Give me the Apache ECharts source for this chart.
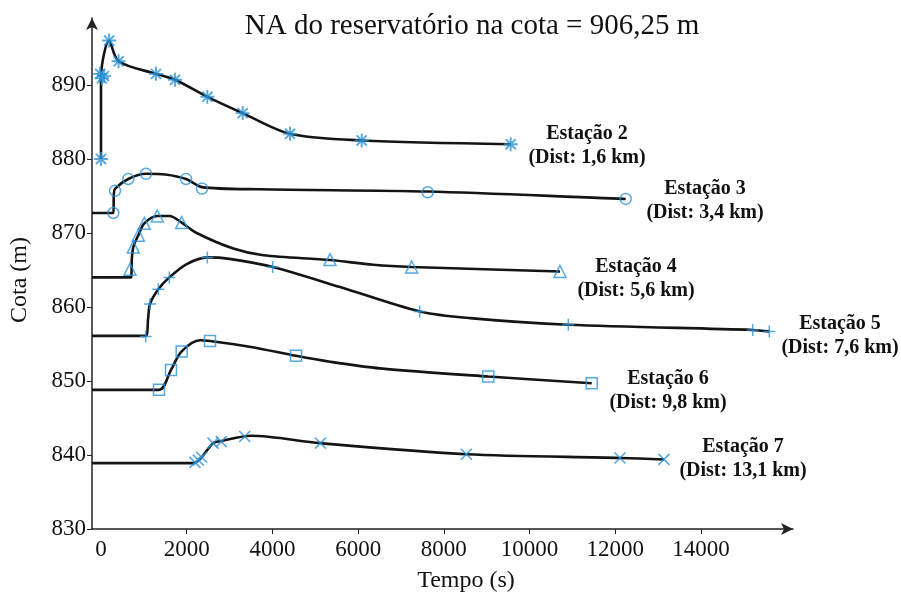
<!DOCTYPE html>
<html><head><meta charset="utf-8">
<script src="https://cdn.jsdelivr.net/npm/echarts@6/dist/echarts.min.js"></script>
<style>html,body{margin:0;padding:0;background:#fff}#c{width:901px;height:596px}</style>
</head><body><div id="c"></div>
<script>
// ---- data ----
const xTickLabels = [0,2000,4000,6000,8000,10000,12000,14000];
const xTickMarks = [2000,4000,6000,8000,10000,12000,14000];
const yTickLabels = [830,840,850,860,870,880,890];

const st2Line  = [[0,880],[0,891],[190,896],[410,893.2],[1283,891.5],[1727,890.7],[2481,888.4],[3306,886.2],[4410,883.4],[6082,882.5],[9559,882.0]];
const st2Marks = [[0,880],[-20,891.5],[20,890.9],[70,891.2],[190,896],[410,893.2],[1283,891.5],[1727,890.7],[2481,888.4],[3306,886.2],[4410,883.4],[6082,882.5],[9559,882.0]];

const st3Line  = [[-210,872.7],[290,872.7],[300,875.3],[330,876.0],[637,877.3],[1050,878.0],[1500,877.9],[1983,877.3],[2356,876.2],[3700,875.9],[7622,875.6],[12243,874.6]];
const st3Marks = [[287,872.7],[327,875.7],[637,877.3],[1050,878.0],[1983,877.3],[2356,876.0],[7622,875.5],[12243,874.6]];

const st4Line  = [[-210,864.0],[700,864.0],[720,866.5],[754,868.1],[871,869.7],[1010,871.3],[1314,872.3],[1600,872.3],[1883,871.4],[2233,870.0],[3087,867.9],[3787,867.0],[5343,866.35],[6353,865.7],[7249,865.4],[10709,864.8]];
const st4Marks = [[677,865.1],[754,868.1],[871,869.7],[1010,871.3],[1314,872.3],[1883,871.4],[5343,866.4],[7249,865.4],[10709,864.8]];

const st5Line  = [[-210,856.1],[1042,856.1],[1100,858.5],[1143,860.4],[1337,862.4],[1594,864.0],[2000,865.8],[2481,866.7],[3000,866.5],[4006,865.4],[5577,862.7],[7436,859.4],[8610,858.5],[10903,857.6],[15205,856.9],[15593,856.7]];
const st5Marks = [[1042,856.0],[1143,860.4],[1337,862.4],[1594,864.0],[2481,866.7],[4006,865.4],[7436,859.4],[10903,857.6],[15205,856.9],[15593,856.7]];

const st6Line  = [[-210,848.8],[1353,848.8],[1633,851.5],[1882,854.0],[2310,855.5],[2543,855.4],[3500,854.6],[4550,853.4],[5343,852.6],[6510,851.7],[9036,850.6],[11449,849.7]];
const st6Marks = [[1353,848.8],[1633,851.5],[1882,854.0],[2543,855.4],[4550,853.4],[9036,850.6],[11449,849.7]];

const st7Line  = [[-210,838.9],[2154,838.9],[2350,839.7],[2613,841.6],[2807,841.9],[3500,842.6],[5119,841.6],[8525,840.1],[12109,839.6],[13136,839.4]];
const st7Marks = [[2193,839.0],[2271,839.3],[2349,839.7],[2613,841.6],[2807,841.8],[3352,842.5],[5119,841.6],[8525,840.1],[12109,839.6],[13136,839.4]];

const stationNames = ['Estação 2','Estação 3','Estação 4','Estação 5','Estação 6','Estação 7'];
const stationDists = ['(Dist: 1,6 km)','(Dist: 3,4 km)','(Dist: 5,6 km)','(Dist: 7,6 km)','(Dist: 9,8 km)','(Dist: 13,1 km)'];
const titleText = 'NA do reservatório na cota = 906,25 m';

// ---- styling ----
const SERIF = '"Liberation Serif","Times New Roman",serif';
const BLUE = '#2a93d8';
const SYM = {
  asterisk: 'path://M0,-1L0,1M-1,0L1,0M-0.72,-0.72L0.72,0.72M-0.72,0.72L0.72,-0.72',
  circle: 'circle',
  triangle: 'path://M0,-1L0.95,0.7L-0.95,0.7Z',
  plus: 'path://M0,-1L0,1M-1,0L1,0',
  square: 'path://M-1,-1L1,-1L1,1L-1,1Z',
  cross: 'path://M-1,-1L1,1M-1,1L1,-1'
};
const lines = [st2Line,st3Line,st4Line,st5Line,st6Line,st7Line];
const marks = [st2Marks,st3Marks,st4Marks,st5Marks,st6Marks,st7Marks];
const syms = [SYM.asterisk,SYM.circle,SYM.triangle,SYM.plus,SYM.square,SYM.cross];
const symSizes = [14,11,12,12,11,11];
const symWidths = [1.9,1.5,1.5,1.5,1.5,1.6];
const labelPos = [[587,134,158],[705,189,213],[636,267,291],[840,324,348],[668,379,403],[743,447,471]];

const series = [];
lines.forEach((d,i)=>{
  series.push({type:'line',data:d,smooth:0.3,showSymbol:false,silent:true,z:2,
    lineStyle:{color:'#141414',width:2.6}});
});
marks.forEach((d,i)=>{
  series.push({type:'scatter',data:d,symbol:syms[i],symbolSize:symSizes[i],silent:true,z:3,
    itemStyle:{color:'none',borderColor:BLUE,borderWidth:symWidths[i]}});
});

const graphic = [
  {type:'text',style:{text:titleText,x:472,y:26,textAlign:'center',textVerticalAlign:'middle',font:'29px '+SERIF,fill:'#111'}},
  {type:'text',style:{text:'Tempo (s)',x:466,y:581,textAlign:'center',textVerticalAlign:'middle',font:'24px '+SERIF,fill:'#111'}},
  {type:'text',rotation:Math.PI/2,x:20,y:280,style:{text:'Cota (m)',x:0,y:0,textAlign:'center',textVerticalAlign:'middle',font:'24px '+SERIF,fill:'#111'}}
];
labelPos.forEach((p,i)=>{
  graphic.push({type:'text',style:{text:stationNames[i],x:p[0],y:p[1],textAlign:'center',textVerticalAlign:'middle',font:'bold 20px '+SERIF,fill:'#111'}});
  graphic.push({type:'text',style:{text:stationDists[i],x:p[0],y:p[2],textAlign:'center',textVerticalAlign:'middle',font:'bold 20px '+SERIF,fill:'#111'}});
});

const chart = echarts.init(document.getElementById('c'),null,{renderer:'canvas'});
chart.setOption({
  animation:false,
  backgroundColor:'#fff',
  grid:{left:92,right:108,top:18,bottom:67,containLabel:false},
  xAxis:{type:'value',min:-210,max:16146,
    axisLine:{onZero:false,lineStyle:{color:'#222',width:1.5},symbol:['none','arrow'],symbolSize:[9,12]},
    axisTick:{show:true,length:5,customValues:xTickMarks,lineStyle:{color:'#222'}},
    axisLabel:{customValues:xTickLabels,margin:9,color:'#111',fontFamily:SERIF,fontSize:23,formatter:v=>String(v)},
    splitLine:{show:false}},
  yAxis:{type:'value',min:830,max:899.05,
    axisLine:{onZero:false,lineStyle:{color:'#222',width:1.5},symbol:['none','arrow'],symbolSize:[9,12]},
    axisTick:{show:true,length:5,customValues:yTickLabels,lineStyle:{color:'#222'}},
    axisLabel:{customValues:yTickLabels,margin:6,color:'#111',fontFamily:SERIF,fontSize:23,formatter:v=>String(v)},
    splitLine:{show:false}},
  graphic:graphic,
  series:series
});
</script></body></html>
